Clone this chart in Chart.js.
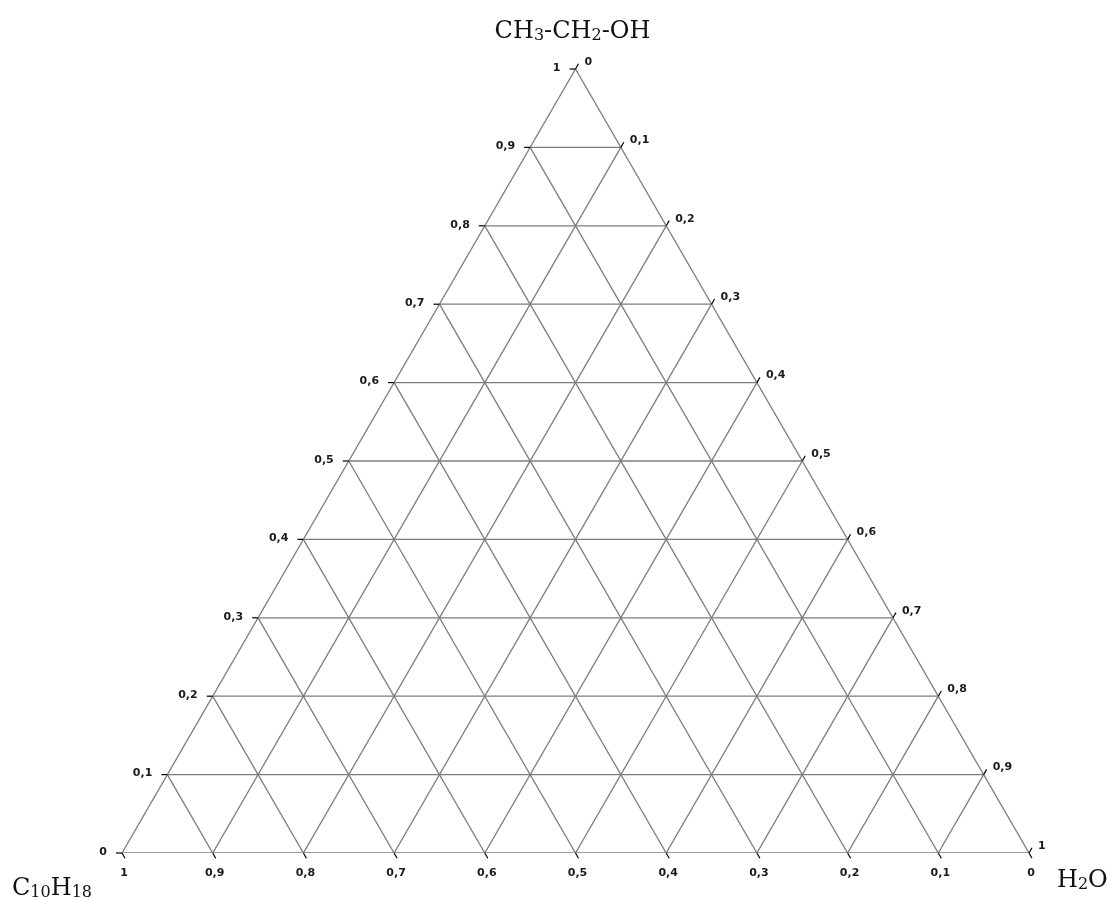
<!DOCTYPE html>
<html>
<head>
<meta charset="utf-8">
<script src="https://cdn.jsdelivr.net/npm/chart.js@4/dist/chart.umd.min.js"></script>
<style>
  body { margin: 0; background: #fff; }
  canvas { display: block; }
</style>
</head>
<body>
<canvas id="ternary" width="1107" height="900"></canvas>
<script>
// components at the corners: top, bottom-left, bottom-right
const topName = 'CH3-CH2-OH';
const leftName = 'C10H18';
const rightName = 'H2O';

// fractions used for grid lines and ticks
const fractions = [0, 0.1, 0.2, 0.3, 0.4, 0.5, 0.6, 0.7, 0.8, 0.9, 1];
const fractionLabels = ['0', '0,1', '0,2', '0,3', '0,4', '0,5', '0,6', '0,7', '0,8', '0,9', '1'];

const gridColor = '#7c7c7c';

// a = ethanol (top), b = water (right); c = 1 - a - b
function toXY(a, b) {
  return { x: b + a / 2, y: a };
}

function lineSet(p1, p2) {
  return {
    data: [p1, p2],
    showLine: true,
    borderColor: gridColor,
    borderWidth: 1.3,
    pointRadius: 0,
    pointHoverRadius: 0,
    fill: false
  };
}

const datasets = [];
fractions.forEach(f => {
  if (f === 1) return;
  // constant ethanol (horizontal)
  datasets.push(lineSet(toXY(f, 0), toXY(f, 1 - f)));
  // constant water (parallel to left side)
  datasets.push(lineSet(toXY(0, f), toXY(1 - f, f)));
  // constant C10H18 (parallel to right side)
  datasets.push(lineSet(toXY(0, 1 - f), toXY(1 - f, 0)));
});

// draws a formula with every digit as a subscript
function drawFormula(ctx, text, x, y, align) {
  const big = '24px "DejaVu Serif"';
  const small = '16px "DejaVu Serif"';
  const parts = text.split(/(\d+)/).filter(s => s.length);
  let total = 0;
  parts.forEach(p => {
    ctx.font = /\d/.test(p) ? small : big;
    total += ctx.measureText(p).width;
  });
  let cx = align === 'center' ? x - total / 2 : (align === 'right' ? x - total : x);
  ctx.textAlign = 'left';
  ctx.textBaseline = 'alphabetic';
  parts.forEach(p => {
    const sub = /\d/.test(p);
    ctx.font = sub ? small : big;
    ctx.fillText(p, cx, sub ? y + 2 : y);
    cx += ctx.measureText(p).width;
  });
}

const ternaryLabels = {
  id: 'ternaryLabels',
  afterDatasetsDraw(chart) {
    const ctx = chart.ctx;
    const xs = chart.scales.x, ys = chart.scales.y;
    const px = p => ({ x: xs.getPixelForValue(p.x), y: ys.getPixelForValue(p.y) });
    const tick = 6;
    const c60 = 0.5, s60 = Math.sqrt(3) / 2;

    ctx.save();
    ctx.strokeStyle = '#000';
    ctx.lineWidth = 1.2;
    ctx.fillStyle = '#1a1a1a';
    ctx.font = 'bold 11px "DejaVu Sans"';

    fractions.forEach((f, i) => {
      const lbl = fractionLabels[i];

      // left side: ethanol fraction
      let p = px(toXY(f, 0));
      ctx.beginPath();
      ctx.moveTo(p.x, p.y);
      ctx.lineTo(p.x - tick, p.y);
      ctx.stroke();
      ctx.textAlign = 'right';
      ctx.textBaseline = 'middle';
      ctx.fillText(lbl, p.x - 15, p.y - 1);

      // right side: water fraction
      p = px(toXY(1 - f, f));
      ctx.beginPath();
      ctx.moveTo(p.x, p.y);
      ctx.lineTo(p.x + tick * c60, p.y - tick * s60);
      ctx.stroke();
      ctx.textAlign = 'left';
      ctx.fillText(lbl, p.x + 9, p.y - 7);

      // bottom: C10H18 fraction
      p = px(toXY(0, 1 - f));
      ctx.beginPath();
      ctx.moveTo(p.x, p.y);
      ctx.lineTo(p.x + tick * c60, p.y + tick * s60);
      ctx.stroke();
      ctx.textAlign = 'center';
      ctx.fillText(lbl, p.x + 2, p.y + 20);
    });

    ctx.fillStyle = '#111';
    const top = px(toXY(1, 0));
    const bl = px(toXY(0, 0));
    const br = px(toXY(0, 1));
    drawFormula(ctx, topName, top.x - 3, 38, 'center');
    drawFormula(ctx, leftName, bl.x - 110, 895, 'left');
    drawFormula(ctx, rightName, br.x + 28, 887, 'left');
    ctx.restore();
  }
};

new Chart(document.getElementById('ternary'), {
  type: 'scatter',
  data: { datasets },
  options: {
    responsive: false,
    animation: false,
    layout: { padding: { left: 122, right: 78, top: 69, bottom: 47 } },
    plugins: {
      legend: { display: false },
      tooltip: { enabled: false }
    },
    scales: {
      x: { type: 'linear', min: 0, max: 1, display: false },
      y: { type: 'linear', min: 0, max: 1, display: false }
    }
  },
  plugins: [ternaryLabels]
});
</script>
</body>
</html>
